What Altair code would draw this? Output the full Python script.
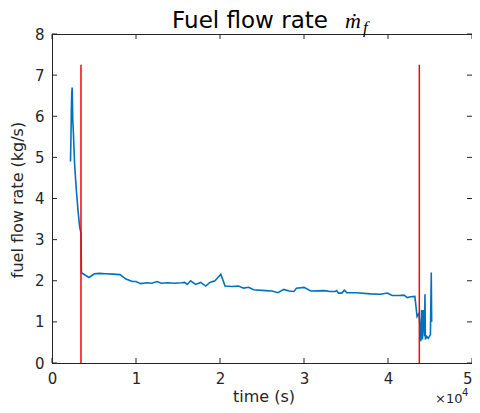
import altair as alt
import pandas as pd

# blue series (time in s, fuel flow rate in kg/s)
time_s = [2200, 2250, 2300, 2350, 2400, 2430, 2470, 2500, 2550, 2600, 2700, 2900, 3100, 3300, 3450, 3500,
          3690, 4400, 5060, 5650, 6400, 7200, 8100, 8800, 9570, 10000, 10560, 11300, 11900, 12500,
          13000, 13800, 14600, 15400, 15800, 16100, 16500, 17100, 17700, 18300, 18800, 19400, 20100,
          20600, 21400, 22200, 22800, 23400, 24000, 25400, 26200, 26900, 27600, 28200, 28800, 29100,
          30000, 30800, 32400, 33100, 33700, 33900, 34100, 34500, 34800, 35100, 36300, 37900, 39100,
          39900, 40500, 41300, 41900, 42300, 42700, 43200, 43460, 43700, 43900, 44000, 44100, 44200,
          44350, 44400, 44450, 44600, 44800, 45050, 45150, 45200]
flow = [4.90, 5.40, 6.10, 6.55, 6.70, 6.40, 5.90, 5.80, 5.60, 5.30, 4.80, 4.20, 3.70, 3.30, 3.16, 2.20,
        2.17, 2.08, 2.17, 2.18, 2.17, 2.16, 2.15, 2.04, 1.98, 1.98, 1.93, 1.95, 1.94, 1.98,
        1.94, 1.95, 1.94, 1.95, 1.96, 1.91, 2.00, 1.91, 1.96, 1.87, 1.96, 2.00, 2.16,
        1.87, 1.86, 1.87, 1.82, 1.84, 1.78, 1.76, 1.75, 1.71, 1.79, 1.75, 1.74, 1.82,
        1.84, 1.75, 1.76, 1.74, 1.74, 1.76, 1.70, 1.70, 1.77, 1.71, 1.71, 1.68, 1.67,
        1.70, 1.64, 1.64, 1.65, 1.59, 1.61, 1.62, 1.13, 1.21, 0.53, 1.29, 0.57, 1.29,
        0.65, 1.67, 0.57, 0.65, 0.60, 0.69, 2.20, 1.00]

# red vertical markers
marker_t = [3450, 43730]
marker_top = [7.25, 7.25]

x_ticks = [0, 10000, 20000, 30000, 40000, 50000]
y_ticks = [0, 1, 2, 3, 4, 5, 6, 7, 8]

W, H = 420, 329
INK = "#262626"
FONT = "DejaVu Sans"
SERIF = "Liberation Serif"

df = pd.DataFrame({"t": time_s, "v": flow, "i": list(range(len(time_s)))})
dm = pd.DataFrame({"t": marker_t, "top": marker_top, "bot": [0, 0]})
dx = pd.DataFrame({"t": x_ticks})
dy = pd.DataFrame({"v": y_ticks})

xs = alt.Scale(domain=[0, 50000], nice=False, zero=False)
ys = alt.Scale(domain=[0, 8], nice=False, zero=False)

xaxis = alt.Axis(values=x_ticks, labelExpr="datum.value/10000", title=None,
                 ticks=False, grid=False, labelFontSize=15, labelPadding=8,
                 labelFlush=False,
                 labelAlign={"condition": {"test": "datum.value >= 50000", "value": "right"},
                             "value": "center"})
yaxis = alt.Axis(values=y_ticks, title=None, ticks=False, grid=False,
                 labelFontSize=15, labelPadding=8)

line = alt.Chart(df).mark_line(color="#0072BD", strokeWidth=1.6).encode(
    x=alt.X("t:Q", scale=xs, axis=xaxis),
    y=alt.Y("v:Q", scale=ys, axis=yaxis),
    order="i:Q",
)

red = alt.Chart(dm).mark_rule(color="#FF0000", strokeWidth=1.5).encode(
    x=alt.X("t:Q", scale=xs), y=alt.Y("bot:Q", scale=ys), y2="top:Q"
)

tick_style = dict(color=INK, strokeWidth=1)
bt = alt.Chart(dx).mark_rule(**tick_style).encode(x=alt.X("t:Q", scale=xs), y=alt.value(H), y2=alt.value(H - 5))
tt = alt.Chart(dx).mark_rule(**tick_style).encode(x=alt.X("t:Q", scale=xs), y=alt.value(0), y2=alt.value(5))
lt = alt.Chart(dy).mark_rule(**tick_style).encode(y=alt.Y("v:Q", scale=ys), x=alt.value(0), x2=alt.value(5))
rt = alt.Chart(dy).mark_rule(**tick_style).encode(y=alt.Y("v:Q", scale=ys), x=alt.value(W), x2=alt.value(W - 5))


def label(text, x, y, font=FONT, size=15, color=INK, align="left", style="normal", angle=0, baseline="alphabetic"):
    kw = dict(font=font, fontSize=size, color=color, align=align, baseline=baseline, fontStyle=style)
    if angle:
        kw["angle"] = angle
    return alt.Chart(pd.DataFrame({"s": [text]})).mark_text(**kw).encode(
        text="s:N", x=alt.value(x), y=alt.value(y))


title_main = label("Fuel flow rate", 198, -6, size=23, color="black", align="center")
title_m = label("ṁ", 293, -6, font=SERIF, size=22, color="black", style="italic")
title_f = label("f", 311, -1, font=SERIF, size=17, color="black", style="italic")

x_title = label("time (s)", 212, 368, size=16, align="center")
y_title = label("fuel flow rate (kg/s)", -34, 166, size=16, align="center", angle=270, baseline="middle")

exp_base = label("×10", 383, 369, size=13)
exp_sup = label("4", 410, 362, size=10)

chart = alt.layer(line, red, bt, tt, lt, rt, title_main, title_m, title_f,
                  x_title, y_title, exp_base, exp_sup).properties(
    width=W, height=H,
    autosize=alt.AutoSizeParams(type="none"),
    padding={"left": 44, "top": 26, "right": 0, "bottom": 42},
).configure_view(stroke=INK, strokeWidth=1).configure_axis(
    domainColor=INK, labelColor=INK, labelFont=FONT,
)

chart.save("out.html", embed_options={"renderer": "svg", "actions": False})
